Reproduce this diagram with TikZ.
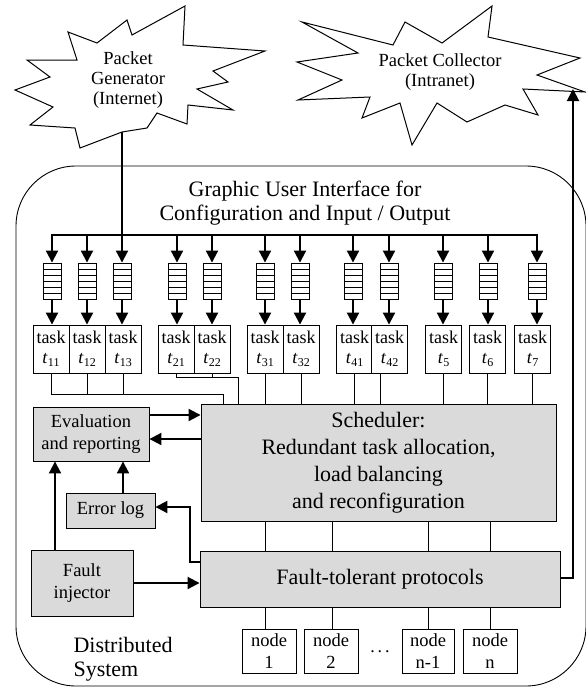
\documentclass[tikz,border=0pt]{standalone}
\usepackage{fontspec}
\setmainfont{Liberation Serif}
\usetikzlibrary{arrows.meta}
\definecolor{boxgray}{RGB}{218,218,218}
\newcommand{\tk}[1]{{\itshape t}\kern0.5pt\raisebox{-3pt}{\fontsize{12}{12}\selectfont #1}}
\begin{document}
\begin{tikzpicture}[x=1pt,y=-1pt,
  thinline/.style={line width=0.9pt},
  thickline/.style={line width=2pt},
  thickarrow/.style={line width=2pt,-{Triangle[length=12pt,width=12pt]}},
  graybox/.style={draw,line width=0.9pt,fill=boxgray,inner sep=0pt,align=center,font=\fontsize{18.5}{22}\selectfont},
  bigbox/.style={draw,line width=0.9pt,fill=boxgray,inner sep=0pt,align=center,font=\fontsize{22}{27}\selectfont},
  taskbox/.style={draw,line width=0.9pt,fill=white,minimum width=36pt,minimum height=48pt,inner sep=0pt,align=center,font=\fontsize{18}{20}\selectfont},
  nodebox/.style={draw,line width=0.9pt,fill=white,minimum height=44pt,inner sep=0pt,align=center,font=\fontsize{18.5}{22}\selectfont},
  queuebox/.style={draw,line width=0.9pt,fill=white,minimum width=18pt,minimum height=36pt,inner sep=0pt,
    path picture={\foreach \k in {1,...,5}{\draw[line width=0.9pt] ([yshift=\k*6pt]path picture bounding box.south west) -- ([yshift=\k*6pt]path picture bounding box.south east);}}},
  startext/.style={align=center,font=\fontsize{18.5}{20}\selectfont},
  bigtext/.style={align=center,font=\fontsize{22}{24}\selectfont}
]
\useasboundingbox (0,0) rectangle (586,688);

% outer system boundary
\draw[line width=0.9pt,rounded corners=60pt] (16,166) rectangle (586,686);

% stars
\draw[line width=1pt,fill=white] (185,6) -- (183,45) -- (265,51) -- (213,71) -- (228,82) -- (197,89) -- (233,110) -- (188,105) -- (187,124) -- (157,113) -- (147,128) -- (122,132) -- (80,148) -- (75,128) -- (30,125) -- (53,107) -- (15,90) -- (50,77) -- (27,60) -- (77,60) -- (68,32) -- (97,43) -- (127,20) -- (132,35) -- cycle;
\node[startext] (gen) at (128,80) {Packet\\Generator\\(Internet)};

\draw[line width=1pt,fill=white] (492,6) -- (488,37) -- (580,58) -- (537,75) -- (585,92) -- (523,89) -- (538,115) -- (505,105) -- (467,122) -- (437,103) -- (412,145) -- (400,103) -- (362,118) -- (370,97) -- (298,100) -- (342,80) -- (297,62) -- (358,53) -- (302,22) -- (393,45) -- (405,22) -- (442,43) -- cycle;
\node[startext] (col) at (440,72) {Packet Collector\\(Intranet)};

\coordinate (genout) at (122,132);
\coordinate (colin) at (573,89);
\coordinate (bus) at (0,235);

% GUI title
\node[bigtext] (gui) at (305,203) {Graphic User Interface for\\Configuration and Input / Output};

% queues
\foreach \n/\x in {q11/52,q12/87,q13/122,q21/177,q22/212,q31/265,q32/300,q41/353,q42/389,q5/443,q6/488,q7/537}
  \node[queuebox] (\n) at (\x,281) {};

% tasks
\foreach \n/\x/\s in {t11/51/11,t12/87/12,t13/123/13,t21/176/21,t22/212/22,t31/265/31,t32/301/32,t41/354.5/41,t42/389.5/42,t5/443.5/5,t6/487.5/6,t7/532.5/7}
  \node[taskbox] (\n) at (\x,349) {task\\\tk{\s}};

% main boxes
\node[bigbox,minimum width=355pt,minimum height=117pt] (sched) at (378.5,462.5)
  {Scheduler:\\Redundant task allocation,\\load balancing\\and reconfiguration};
\node[graybox,minimum width=116pt,minimum height=54pt] (eval) at (91,434) {Evaluation\\and reporting};
\node[graybox,minimum width=89pt,minimum height=35pt] (err) at (110.5,510.5) {Error log};
\node[graybox,minimum width=102pt,minimum height=66pt] (fi) at (82,583) {Fault\\injector};
\node[bigbox,minimum width=360pt,minimum height=56pt] (ft) at (380,579) {Fault-tolerant protocols};

% processing nodes
\node[nodebox,minimum width=54pt] (n1) at (269,651) {node\\1};
\node[nodebox,minimum width=54pt] (n2) at (331,651) {node\\2};
\node[nodebox,minimum width=52pt] (nm) at (428,651) {node\\n-1};
\node[nodebox,minimum width=54pt] (nn) at (490,651) {node\\n};
\node[font=\fontsize{18}{20}\selectfont] (dots) at (380,652) {.\,.\,.};

\node[anchor=west,align=left,font=\fontsize{22}{24}\selectfont] (ds) at (70,659) {Distributed\\System};

% bus and arrows to queues
\draw[thickarrow] (q7.north |- bus) -| (q11.north);
\draw[thickarrow] (q11.north |- bus) -| (q7.north);
\foreach \q in {q12,q21,q22,q31,q32,q41,q42,q5,q6}
  \draw[thickarrow] (\q.north |- bus) -- (\q.north);
\draw[thickarrow] (genout) -- (q13.north);

\foreach \q/\t in {q11/t11,q12/t12,q13/t13,q21/t21,q22/t22,q31/t31,q32/t32,q41/t41,q42/t42,q5/t5,q6/t6,q7/t7}
  \draw[thickarrow] (\q.south) -- (\q.south |- \t.north);

% task connectors to scheduler
\coordinate (c1) at (223,394);
\coordinate (c2) at (238,377);
\coordinate (t42b) at ([xshift=-9pt]t42.south);
\draw[thinline] (t11.south) |- (c1) -- (c1 |- sched.north);
\draw[thinline] (t12.south) -- (t12.south |- c1);
\draw[thinline] (t13.south) -- (t13.south |- c1);
\draw[thinline] (t21.south) |- (c2) -- (c2 |- sched.north);
\draw[thinline] (t22.south) -- (t22.south |- c2);
\foreach \t in {t31,t32,t41,t5,t6,t7}
  \draw[thinline] (\t.south) -- (\t.south |- sched.north);
\draw[thinline] (t42b) -- (t42b |- sched.north);

% scheduler - protocols - nodes
\coordinate (v1) at (265,0);
\coordinate (v2) at (332,0);
\coordinate (v3) at (428,0);
\coordinate (v4) at (490,0);
\foreach \v in {v1,v2,v3,v4}
  \draw[thinline] (sched.south -| \v) -- (ft.north -| \v);
\draw[thinline] (ft.south -| v1) -- (n1.north -| v1);
\draw[thinline] (ft.south -| v2) -- (n2.north -| v2);
\draw[thinline] (ft.south -| v3) -- (nm.north -| v3);
\draw[thinline] (ft.south -| v4) -- (nn.north -| v4);

% evaluation, error log, fault injector
\coordinate (ya) at (0,415);
\coordinate (yb) at (0,439);
\coordinate (xe) at (123,0);
\coordinate (xf) at (55,0);
\coordinate (ye) at (0,562);
\coordinate (yl) at (0,507);
\coordinate (xk) at (190,0);
\coordinate (yo) at (0,578);
\draw[thickarrow] (eval.east |- ya) -- (sched.west |- ya);
\draw[thickarrow] (sched.west |- yb) -- (eval.east |- yb);
\draw[thickarrow] (err.north -| xe) -- (eval.south -| xe);
\draw[thickarrow] (fi.north -| xf) -- (eval.south -| xf);
\draw[thickarrow] (fi.east) -- (ft.west |- fi.east);
\draw[thickarrow] (ft.west |- ye) -| (xk |- yl) -- (err.east |- yl);
\draw[thickarrow] (ft.east |- yo) -| (colin);
\end{tikzpicture}
\end{document}
